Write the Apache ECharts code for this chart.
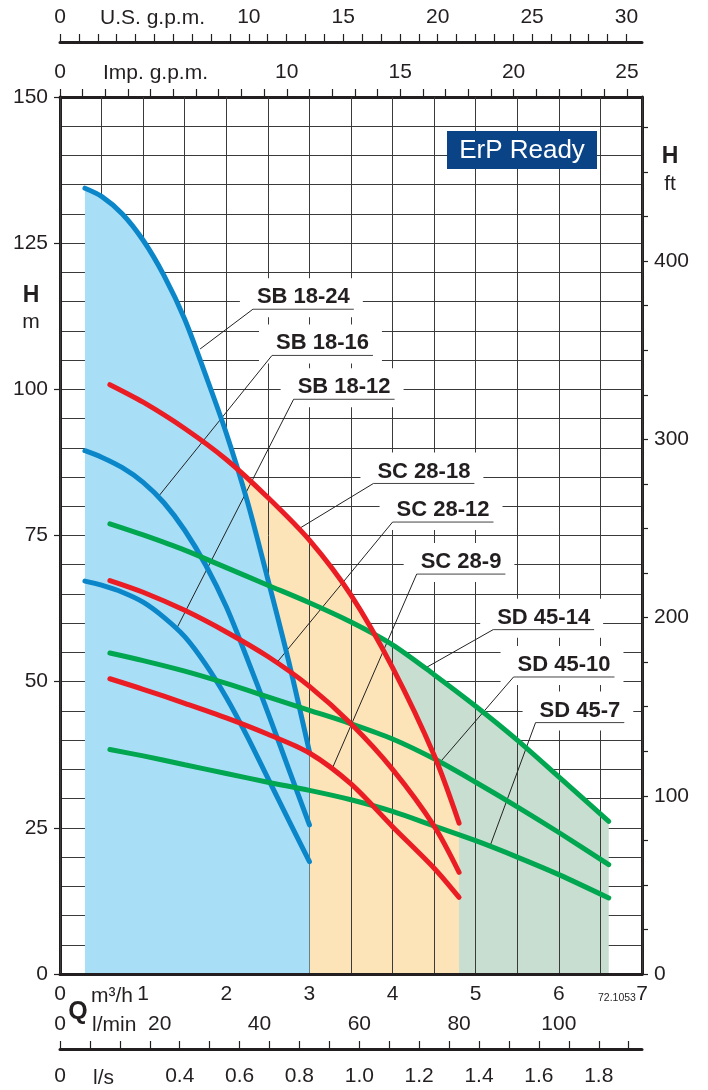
<!DOCTYPE html>
<html>
<head>
<meta charset="utf-8">
<script src="https://cdn.jsdelivr.net/npm/echarts@6/dist/echarts.min.js"></script>
<style>
html,body{margin:0;padding:0;background:#fff;}
#c{width:708px;height:1090px;}
</style>
</head>
<body>
<div id="c"></div>
<script>
// ---- data (Q in m3/h, H in m) ----
const sb1824 = [[0.3,134.4],[0.5,133],[0.75,130],[1.0,125.5],[1.25,119.5],[1.5,112],[1.75,102.5],[2.0,92.5],[2.25,81],[2.5,67.5],[2.75,53.5],[3.0,38]];
const sb1816 = [[0.3,89.5],[0.5,88.4],[0.75,86.6],[1.0,84.1],[1.25,80.6],[1.5,75.9],[1.75,70],[2.0,62.8],[2.25,54],[2.5,44.7],[2.75,35.1],[3.0,25.5]];
const sb1812 = [[0.3,67.2],[0.5,66.5],[0.75,65.3],[1.0,63.6],[1.25,61],[1.5,57.7],[1.75,53],[2.0,47.3],[2.25,40.7],[2.5,33.5],[2.75,26.3],[3.0,19.2]];
const sc2818 = [[0.6,100.8],[1.0,97.8],[1.5,93.3],[2.0,88],[2.5,81.5],[3.0,74.2],[3.5,64.8],[4.0,52.4],[4.5,37.4],[4.8,25.8]];
const sc2812 = [[0.6,67.3],[1.0,65.3],[1.5,62.2],[2.0,58.5],[2.5,54.3],[3.0,49.2],[3.5,42.8],[4.0,35],[4.5,25.3],[4.8,17.4]];
const sc289  = [[0.6,50.5],[1.0,48.7],[1.5,46.3],[2.0,43.8],[2.5,41],[3.0,37.8],[3.5,32.5],[4.0,25.2],[4.5,18.1],[4.8,13.1]];
const sd4514 = [[0.6,77],[1.0,75.1],[1.5,72.5],[2.0,69.5],[2.5,66.5],[3.0,63.5],[3.5,60.2],[4.0,56.3],[4.5,51.2],[5.0,45.8],[5.5,40],[6.0,33.7],[6.6,26.1]];
const sd4510 = [[0.6,54.9],[1.0,53.6],[1.5,51.8],[2.0,49.7],[2.5,47.4],[3.0,45.1],[3.5,42.8],[4.0,40.2],[4.5,36.8],[5.0,32.8],[5.5,28.6],[6.0,24.2],[6.6,18.7]];
const sd457  = [[0.6,38.4],[1.0,37.3],[1.5,35.8],[2.0,34.3],[2.5,32.8],[3.0,31.4],[3.5,29.8],[4.0,27.8],[4.5,25.3],[5.0,22.8],[5.5,20],[6.0,17],[6.6,13]];

const curveNames = ['SB 18-24','SB 18-16','SB 18-12','SC 28-18','SC 28-12','SC 28-9','SD 45-14','SD 45-10','SD 45-7'];
// annotation: [label Q, label H, target Q, target H]
const annoPoints = [[2.32,113.7,1.685,106.9],[2.55,105.8,1.18,81.6],[2.81,98.3,1.40,59],[3.77,83.9,2.89,76.3],[4.0,77.3,2.61,53.3],[4.29,68.4,3.27,35],[5.21,58.9,4.39,52.3],[5.455,50.8,4.57,36.2],[5.72,43.0,5.17,21.8]];

// axis tick values
const m3hLabels = [0,1,2,3,4,5,6,7];
const lminLabels = [0,20,40,60,80,100];
const lsLabels = [0,0.4,0.6,0.8,1.0,1.2,1.4,1.6,1.8];
const lsTicks = [0,0.1,0.2,0.3,0.4,0.5,0.6,0.7,0.8,0.9,1.0,1.1,1.2,1.3,1.4,1.5,1.6,1.7,1.8,1.9];
const usLabels = [0,10,15,20,25,30];
const usTicks = Array.from({length:31},(_,i)=>i);
const impLabels = [0,10,15,20,25];
const impTicks = Array.from({length:26},(_,i)=>i);
const mLabels = [0,25,50,75,100,125,150];
const ftLabels = [0,100,200,300,400];
const ftTicks = Array.from({length:20},(_,i)=>i*25);

const FONT = '"Liberation Sans", Arial, Helvetica, sans-serif';
const TXT = '#231f20';
const BLUE = '#0b87c9', RED = '#ea1d25', GREEN = '#00a650';

const chart = echarts.init(document.getElementById('c'), null, {renderer:'canvas'});
const measureCtx = document.createElement('canvas').getContext('2d');
measureCtx.font = 'bold 22px ' + FONT;

const axisLineThick = {show:true, onZero:false, lineStyle:{color:TXT, width:3}};
const lblStyle = {color:TXT, fontSize:21, fontFamily:FONT};
const fmt = v => (Math.abs(v - Math.round(v)) < 1e-9 ? String(Math.round(v)) : v.toFixed(1));
const fmtLs = v => (Math.abs(v) < 1e-9 ? '0' : v.toFixed(1));

function lineSeries(data, color){
  return {type:'line', data:data, smooth:0.3, symbol:'none', xAxisIndex:0, yAxisIndex:0,
    lineStyle:{color:color, width:5, cap:'round'}, z:5, silent:true};
}
function areaSeries(data, color, z){
  return {type:'line', data:data, smooth:0.3, symbol:'none', xAxisIndex:0, yAxisIndex:0,
    lineStyle:{width:0, opacity:0}, areaStyle:{color:color, opacity:1, origin:'start'}, z:z, silent:true};
}

const option = {
  animation:false,
  grid:{left:60, right:66, top:97, bottom:116, containLabel:false, outerBoundsMode:'none'},
  xAxis:[
    {type:'value', position:'bottom', min:0, max:7, interval:0.5,
      axisLine:axisLineThick, axisTick:{show:false},
      axisLabel:Object.assign({customValues:m3hLabels, margin:10, formatter:fmt}, lblStyle),
      splitLine:{show:true, lineStyle:{color:'#3a3a3a', width:1}}, z:3},
    {type:'value', position:'bottom', offset:30, min:0, max:7000/60,
      axisLine:{show:false, onZero:false}, axisTick:{show:false}, splitLine:{show:false},
      axisLabel:Object.assign({customValues:lminLabels, margin:10, formatter:fmt}, lblStyle)},
    {type:'value', position:'bottom', offset:75, min:0, max:7/3.6,
      axisLine:axisLineThick, splitLine:{show:false},
      axisTick:{show:true, inside:true, length:8, customValues:lsTicks, lineStyle:{color:TXT, width:1.2}},
      axisLabel:Object.assign({customValues:lsLabels, margin:17, formatter:fmtLs}, lblStyle)},
    {type:'value', position:'top', offset:55, min:0, max:7*4.40287,
      axisLine:axisLineThick, splitLine:{show:false},
      axisTick:{show:true, inside:false, length:8, customValues:usTicks, lineStyle:{color:TXT, width:1.2}},
      axisLabel:Object.assign({customValues:usLabels, margin:14, formatter:fmt}, lblStyle)},
    {type:'value', position:'top', offset:0, min:0, max:7*3.66615,
      axisLine:axisLineThick, splitLine:{show:false},
      axisTick:{show:true, inside:false, length:8, customValues:impTicks, lineStyle:{color:TXT, width:1.2}},
      axisLabel:Object.assign({customValues:impLabels, margin:14, formatter:fmt}, lblStyle)}
  ],
  yAxis:[
    {type:'value', position:'left', min:0, max:150, interval:5,
      axisLine:axisLineThick, axisTick:{show:false}, axisLabel:{show:false},
      splitLine:{show:true, lineStyle:{color:'#3a3a3a', width:1}}},
    {type:'value', position:'left', min:0, max:150, splitLine:{show:false},
      axisLine:axisLineThick,
      axisTick:{show:true, length:6, customValues:mLabels, lineStyle:{color:TXT, width:1.2}},
      axisLabel:Object.assign({customValues:mLabels, margin:12, formatter:fmt}, lblStyle)},
    {type:'value', position:'right', min:0, max:150/0.3048, splitLine:{show:false},
      axisLine:axisLineThick,
      axisTick:{show:true, length:6, customValues:ftTicks, lineStyle:{color:TXT, width:1.2}},
      axisLabel:Object.assign({customValues:ftLabels, margin:12, formatter:fmt}, lblStyle)}
  ],
  series:[
    areaSeries(sd4514, '#c8ded0', 1),
    areaSeries(sc2818, '#fde3b8', 2),
    areaSeries(sb1824, '#a9def7', 3),
    {type:'custom', coordinateSystem:'cartesian2d', xAxisIndex:0, yAxisIndex:0, z:4, silent:true,
      data:annoPoints,
      renderItem:function(params, api){
        const a = api.coord([api.value(0), api.value(1)]);
        const t = api.coord([api.value(2), api.value(3)]);
        const name = curveNames[params.dataIndex];
        const w = measureCtx.measureText(name).width + 8;
        return {type:'group', children:[
          {type:'rect', shape:{x:a[0]-13, y:a[1]-31, width:w+22, height:39}, style:{fill:'#fff'}},
          {type:'line', shape:{x1:a[0], y1:a[1], x2:a[0]+w, y2:a[1]}, style:{stroke:'#444', lineWidth:1}},
          {type:'line', shape:{x1:a[0], y1:a[1], x2:t[0], y2:t[1]}, style:{stroke:'#222', lineWidth:1}},
          {type:'text', x:a[0]+4, y:a[1]-1, style:{text:name, font:'bold 22px ' + FONT, fill:TXT, align:'left', verticalAlign:'bottom'}}
        ]};
      }
    },
    lineSeries(sb1824, BLUE), lineSeries(sb1816, BLUE), lineSeries(sb1812, BLUE),
    lineSeries(sd4514, GREEN), lineSeries(sd4510, GREEN), lineSeries(sd457, GREEN),
    lineSeries(sc2818, RED), lineSeries(sc2812, RED), lineSeries(sc289, RED)
  ],
  graphic:[
    {type:'rect', shape:{x:447, y:131, width:150, height:38}, style:{fill:'#0b4486'}, z:10},
    {type:'text', x:522, y:151, z:11, style:{text:'ErP Ready', fill:'#fff', font:'26px ' + FONT, align:'center', verticalAlign:'middle'}},
    {type:'text', x:31, y:296, style:{text:'H', fill:TXT, font:'bold 23px ' + FONT, align:'center', verticalAlign:'middle'}},
    {type:'text', x:31, y:322, style:{text:'m', fill:TXT, font:'21px ' + FONT, align:'center', verticalAlign:'middle'}},
    {type:'text', x:670, y:157, style:{text:'H', fill:TXT, font:'bold 23px ' + FONT, align:'center', verticalAlign:'middle'}},
    {type:'text', x:670, y:184, style:{text:'ft', fill:TXT, font:'21px ' + FONT, align:'center', verticalAlign:'middle'}},
    {type:'text', x:78, y:1012, style:{text:'Q', fill:TXT, font:'bold 25px ' + FONT, align:'center', verticalAlign:'middle'}},
    {type:'text', x:91, y:996, style:{text:'m³/h', fill:TXT, font:'21px ' + FONT, align:'left', verticalAlign:'middle'}},
    {type:'text', x:92, y:1025, style:{text:'l/min', fill:TXT, font:'21px ' + FONT, align:'left', verticalAlign:'middle'}},
    {type:'text', x:93, y:1078, style:{text:'l/s', fill:TXT, font:'21px ' + FONT, align:'left', verticalAlign:'middle'}},
    {type:'text', x:100, y:18, style:{text:'U.S. g.p.m.', fill:TXT, font:'21px ' + FONT, align:'left', verticalAlign:'middle'}},
    {type:'text', x:103, y:73, style:{text:'Imp. g.p.m.', fill:TXT, font:'21px ' + FONT, align:'left', verticalAlign:'middle'}},
    {type:'text', x:598, y:998, style:{text:'72.1053', fill:TXT, font:'10.5px ' + FONT, align:'left', verticalAlign:'middle'}}
  ]
};
chart.setOption(option);
</script>
</body>
</html>
